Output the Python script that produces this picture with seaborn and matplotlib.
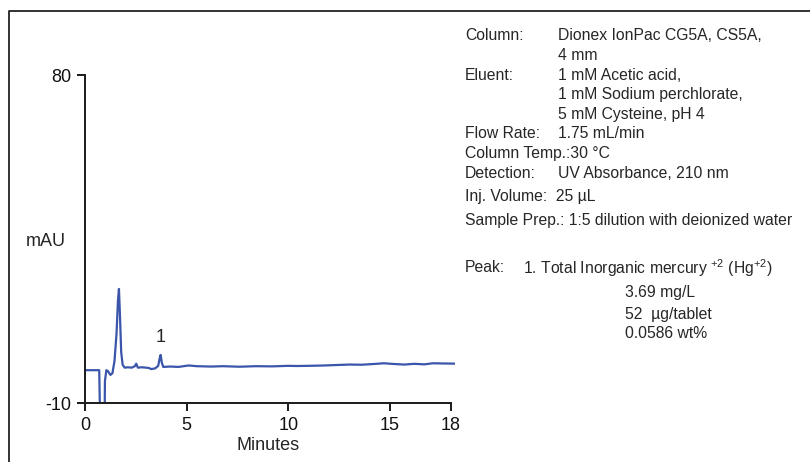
import numpy as np
import pandas as pd
import matplotlib
matplotlib.use("Agg")
import matplotlib.pyplot as plt
from matplotlib.lines import Line2D
import seaborn as sns

# chromatogram trace (minutes, mAU)
minutes = [0.0, 0.35, 0.70, 0.74, 0.78, 0.95, 0.98, 1.05, 1.12, 1.25, 1.35,
           1.45, 1.55, 1.62, 1.67, 1.72, 1.78, 1.85, 1.95, 2.1, 2.3, 2.45,
           2.52, 2.6, 2.8, 3.0, 3.15, 3.25, 3.45, 3.6, 3.67, 3.72, 3.78,
           3.85, 4.2, 4.6, 5.1, 5.5, 6.2, 6.8, 7.6, 8.4, 9.2, 10.0, 10.4,
           11.0, 11.8, 12.5, 13.0, 13.6, 14.2, 14.7, 15.2, 15.7, 16.2,
           16.7, 17.1, 17.6, 18.2]
mau = [-1.0, -1.0, -1.0, -14.0, -25.0, -25.0, -4.0, -1.0, -1.2, -2.3, -1.8,
       1.5, 9.0, 18.0, 21.3, 14.0, 4.0, 0.5, -0.3, -0.2, -0.3, 0.1,
       0.8, -0.3, -0.2, -0.3, -0.4, -0.7, -0.5, 0.2, 2.2, 3.2, 1.0,
       -0.1, 0.0, -0.1, 0.3, 0.1, 0.0, 0.1, -0.05, 0.1, 0.05, 0.2, 0.15,
       0.2, 0.3, 0.45, 0.55, 0.5, 0.7, 0.9, 0.7, 0.55, 0.75,
       0.6, 0.9, 0.85, 0.8]

x_ticks = [0, 5, 10, 15, 18]
y_ticks = [-10, 80]

labels_left = ["Column:", "", "Eluent:", "", "", "Flow Rate:",
               "Column Temp.:30 °C", "Detection:", "Inj. Volume:  25 µL",
               "Sample Prep.: 1:5 dilution with deionized water"]
labels_right = ["Dionex IonPac CG5A, CS5A,", "4 mm", "1 mM Acetic acid,",
                "1 mM Sodium perchlorate,", "5 mM Cysteine, pH 4",
                "1.75 mL/min", "", "UV Absorbance, 210 nm", "", ""]
label_rows = [36, 56, 75, 95, 114, 133, 154, 174, 197, 220]

peak_lines = ["3.69 mg/L", "52  µg/tablet", "0.0586 wt%"]
peak_rows = [293, 314, 334]

sns.set_style("ticks")
plt.rcParams["font.family"] = ["Liberation Sans", "DejaVu Sans"]
plt.rcParams["mathtext.fontset"] = "custom"
plt.rcParams["mathtext.rm"] = "Liberation Sans"
plt.rcParams["mathtext.it"] = "Liberation Sans"
plt.rcParams["axes.unicode_minus"] = False

W, H = 810, 462
fs_info = 11.3
fs_axis = 13
fig = plt.figure(figsize=(W / 100, H / 100), dpi=100)
x0, x18, y80, ym10 = 85, 451, 75, 403
xr = x0 + (x18 - x0) * 18.2 / 18
ax = fig.add_axes([x0 / W, 1 - ym10 / H, (xr - x0) / W, (ym10 - y80) / H])

df = pd.DataFrame({"Minutes": minutes, "mAU": mau})
sns.lineplot(data=df, x="Minutes", y="mAU", ax=ax, color="#3a55aa",
             linewidth=1.6, sort=False)

ax.set_xlim(0, 18.2)
ax.set_ylim(-10, 80)
ax.spines["top"].set_visible(False)
ax.spines["right"].set_visible(False)
ax.spines["bottom"].set_bounds(0, 18)
for s in ["left", "bottom"]:
    ax.spines[s].set_linewidth(1.4)
    ax.spines[s].set_color("#1a1a1a")
ax.set_xticks(x_ticks)
ax.set_yticks(y_ticks)
ax.tick_params(axis="both", length=6, width=1.4, labelsize=fs_axis,
               color="#1a1a1a", labelcolor="#111111", pad=4)
ax.set_xlabel("")
ax.set_ylabel("")

fig.text(268 / W, 1 - 445 / H, "Minutes", ha="center", va="center", fontsize=fs_axis)
fig.text(46 / W, 1 - 242 / H, "mAU", ha="center", va="center", fontsize=fs_axis)
fig.text(161 / W, 1 - 337 / H, "1", ha="center", va="center", fontsize=fs_axis)

for left, right, row in zip(labels_left, labels_right, label_rows):
    if left:
        fig.text(465 / W, 1 - row / H, left, ha="left", va="center", fontsize=fs_info)
    if right:
        fig.text(558 / W, 1 - row / H, right, ha="left", va="center", fontsize=fs_info)

fig.text(465 / W, 1 - 268 / H, "Peak:", ha="left", va="center", fontsize=fs_info)
fig.text(523 / W, 1 - 268 / H,
         r"1. Total Inorganic mercury $^{+2}$ (Hg$^{+2}$)",
         ha="left", va="center", fontsize=fs_info)
for txt, row in zip(peak_lines, peak_rows):
    fig.text(625 / W, 1 - row / H, txt, ha="left", va="center", fontsize=fs_info)

# frame around the figure (left and top edges visible)
fig.add_artist(Line2D([8.5 / W, 8.5 / W, 1.0], [0.0, 1 - 10.5 / H, 1 - 10.5 / H],
                      transform=fig.transFigure, color="#222222", linewidth=1.3))

fig.savefig("out.png", dpi=100)
